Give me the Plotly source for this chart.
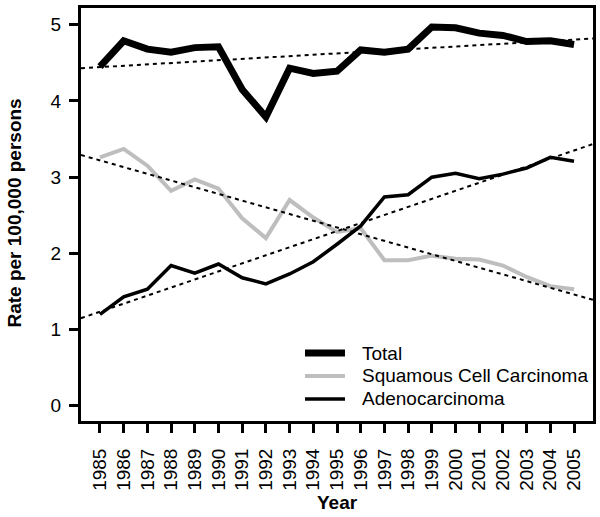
import plotly.graph_objects as go

years = list(range(1985, 2006))
total = [4.45, 4.79, 4.68, 4.64, 4.70, 4.71, 4.15, 3.79, 4.43, 4.36, 4.39,
         4.67, 4.64, 4.68, 4.97, 4.96, 4.89, 4.86, 4.78, 4.79, 4.74]
squamous = [3.26, 3.37, 3.15, 2.82, 2.97, 2.85, 2.46, 2.20, 2.70, 2.47, 2.28,
            2.33, 1.91, 1.91, 1.97, 1.93, 1.92, 1.84, 1.69, 1.57, 1.53]
adeno = [1.20, 1.43, 1.53, 1.84, 1.74, 1.86, 1.68, 1.60, 1.73, 1.89, 2.12,
         2.36, 2.74, 2.77, 3.00, 3.05, 2.98, 3.04, 3.12, 3.26, 3.21]

# trend lines: value at 1985 and at 2005
trend_total = [4.444, 4.805]
trend_squamous = [3.22, 1.46]
trend_adeno = [1.234, 3.35]

series_names = ["Total", "Squamous Cell Carcinoma", "Adenocarcinoma"]
series_colors = ["black", "#bebebe", "black"]
series_widths = [7, 4, 3.5]

year_labels = [str(y) for y in years]
x_range = [1984.2, 2005.8]
y_range = [-0.2, 5.22]
y_ticks = [0, 1, 2, 3, 4, 5]

FONT = "Liberation Sans, Arial, sans-serif"
FS = 19


def extend(trend):
    slope = (trend[1] - trend[0]) / (years[-1] - years[0])
    return [trend[0] + slope * (x - years[0]) for x in x_range]


fig = go.Figure()
for name, vals, col, w in zip(series_names, [total, squamous, adeno],
                              series_colors, series_widths):
    fig.add_trace(go.Scatter(x=years, y=vals, mode="lines", name=name,
                             showlegend=False,
                             line=dict(color=col, width=w)))
for tr in (trend_total, trend_squamous, trend_adeno):
    fig.add_trace(go.Scatter(x=x_range, y=extend(tr), mode="lines",
                             showlegend=False, hoverinfo="skip",
                             line=dict(color="black", width=2, dash="4px,4px")))

# custom legend (paper coordinates)
leg_y = [0.1646, 0.109, 0.0533]
for name, col, w, yy in zip(series_names, series_colors, series_widths, leg_y):
    fig.add_shape(type="line", xref="paper", yref="paper",
                  x0=0.4375, x1=0.5156, y0=yy, y1=yy,
                  line=dict(color=col, width=w))
    fig.add_annotation(xref="paper", yref="paper", x=0.5449, y=yy,
                       xanchor="left", yanchor="middle", text=name,
                       showarrow=False, font=dict(size=FS, color="black"))

# axis titles
fig.add_annotation(xref="paper", yref="paper", x=0.501, y=-0.1985,
                   text="<b>Year</b>", showarrow=False,
                   xanchor="center", yanchor="middle",
                   font=dict(size=FS, color="black"))
fig.add_annotation(xref="paper", yref="paper", x=-0.1289, y=0.5024,
                   text="<b>Rate per 100,000 persons</b>", showarrow=False,
                   textangle=-90, xanchor="center", yanchor="middle",
                   font=dict(size=FS, color="black"))

fig.update_layout(
    width=600, height=517,
    margin=dict(l=81, r=7, t=8, b=96),
    paper_bgcolor="white", plot_bgcolor="white",
    font=dict(family=FONT, size=FS, color="black"),
    showlegend=False,
)
fig.update_xaxes(
    range=x_range, tickvals=years, ticktext=year_labels, tickangle=-90,
    showgrid=False, zeroline=False, showline=True, linecolor="black",
    linewidth=3, mirror=True, ticks="outside", ticklen=9, tickwidth=2.5,
    tickcolor="black", tickfont=dict(size=FS), automargin=False,
    ticklabelstandoff=8,
)
fig.update_yaxes(
    range=y_range, tickvals=y_ticks, showgrid=False, zeroline=False,
    showline=True, linecolor="black", linewidth=3, mirror=True,
    ticks="outside", ticklen=9, tickwidth=2.5, tickcolor="black",
    tickfont=dict(size=FS), automargin=False, ticklabelstandoff=4,
)

fig.write_html("out.html", config={"displayModeBar": False},
               post_script="document.body.style.margin='0px';"
                           "document.body.style.overflow='hidden';")
